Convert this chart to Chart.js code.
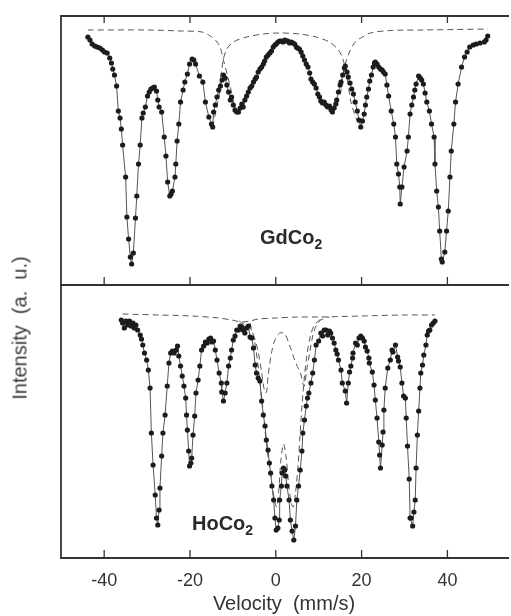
<!DOCTYPE html>
<html>
<head>
<meta charset="utf-8">
<script src="https://cdn.jsdelivr.net/npm/chart.js@4.4.1/dist/chart.umd.min.js"></script>
<style>
  body { margin: 0; background: #fff; }
  #wrap { position: relative; width: 511px; height: 616px; overflow: hidden; font-family: 'Liberation Sans', Arial, sans-serif; color: #2a2a2a; }
  canvas { position: absolute; left: 0; }
  #cTop { top: 0; }
  #cBot { top: 280px; }
  .lbl { position: absolute; font-weight: bold; font-size: 20px; line-height: 20px; white-space: nowrap; }
  .lbl sub { font-size: 14px; vertical-align: -5px; line-height: 0; }
  #ytitle { position: absolute; left: 20px; top: 328px; font-size: 20px; white-space: pre; transform: translate(-50%, -50%) rotate(-90deg); color: #3a3a3a; }
</style>
</head>
<body>
<div id="wrap">
  <canvas id="cTop" width="511" height="290"></canvas>
  <canvas id="cBot" width="511" height="336"></canvas>
  <div class="lbl" style="left:260px; top:227px;">GdCo<sub>2</sub></div>
  <div class="lbl" style="left:192px; top:513px;">HoCo<sub>2</sub></div>
  <div id="ytitle">Intensity  (a.  u.)</div>
</div>
<script>
// axes
var xMin = -50.06;
var xMax = 53.89;
var xTicks = [-40, -20, 0, 20, 40];

// GdCo2 : mesures [vitesse mm/s, intensite]
var gdData = [[-43.8,0.993],[-43.3,0.990],[-42.8,0.986],[-42.2,0.984],[-41.6,0.983],[-41.0,0.982],[-40.4,0.980],[-39.9,0.978],[-39.3,0.977],[-38.7,0.972],[-38.3,0.967],[-38.0,0.961],[-37.6,0.955],[-37.1,0.944],[-36.7,0.919],[-36.3,0.912],[-36.0,0.901],[-35.7,0.885],[-35.0,0.853],[-34.7,0.813],[-34.3,0.791],[-33.9,0.773],[-33.6,0.766],[-33.2,0.777],[-32.7,0.812],[-32.4,0.834],[-32.0,0.866],[-31.6,0.885],[-31.2,0.912],[-30.9,0.917],[-30.4,0.923],[-29.9,0.934],[-29.5,0.938],[-29.1,0.941],[-28.7,0.942],[-28.3,0.943],[-27.8,0.939],[-27.5,0.930],[-27.2,0.923],[-26.6,0.918],[-26.0,0.893],[-25.6,0.874],[-25.2,0.848],[-24.7,0.834],[-24.4,0.836],[-24.1,0.839],[-23.5,0.853],[-23.3,0.866],[-23.0,0.889],[-22.6,0.906],[-22.2,0.928],[-21.6,0.940],[-21.2,0.948],[-20.6,0.956],[-20.1,0.966],[-19.5,0.971],[-19.1,0.970],[-18.7,0.966],[-17.8,0.954],[-17.0,0.948],[-16.4,0.928],[-15.6,0.913],[-15.0,0.906],[-14.7,0.903],[-14.5,0.918],[-14.1,0.925],[-13.7,0.933],[-13.3,0.940],[-12.9,0.944],[-12.5,0.950],[-12.2,0.955],[-11.8,0.952],[-11.4,0.945],[-11.0,0.938],[-10.6,0.930],[-10.3,0.933],[-9.9,0.925],[-9.5,0.920],[-9.1,0.918],[-8.7,0.918],[-8.3,0.922],[-7.9,0.926],[-7.6,0.923],[-7.2,0.930],[-6.8,0.934],[-6.4,0.938],[-6.0,0.942],[-5.6,0.944],[-5.2,0.948],[-4.8,0.951],[-4.5,0.953],[-4.1,0.958],[-3.7,0.961],[-3.3,0.963],[-2.9,0.966],[-2.6,0.969],[-2.2,0.973],[-1.8,0.975],[-1.4,0.977],[-1.0,0.979],[-0.6,0.983],[-0.2,0.985],[0.1,0.986],[0.5,0.988],[0.9,0.989],[1.3,0.989],[1.7,0.988],[2.1,0.990],[2.5,0.989],[2.8,0.989],[3.2,0.987],[3.6,0.988],[4.0,0.987],[4.4,0.986],[4.8,0.983],[5.1,0.982],[5.5,0.981],[5.9,0.978],[6.3,0.974],[6.7,0.970],[7.1,0.966],[7.5,0.963],[7.9,0.957],[8.2,0.951],[8.6,0.948],[9.0,0.946],[9.4,0.942],[9.8,0.936],[10.2,0.933],[10.5,0.929],[10.9,0.927],[11.3,0.928],[11.7,0.925],[12.1,0.923],[12.5,0.924],[12.9,0.920],[13.2,0.918],[13.6,0.922],[14.0,0.926],[14.2,0.930],[14.6,0.938],[15.0,0.945],[15.2,0.948],[15.6,0.955],[16.0,0.962],[16.2,0.964],[16.6,0.958],[16.9,0.953],[17.3,0.947],[17.7,0.941],[18.1,0.936],[18.5,0.928],[19.0,0.919],[19.4,0.910],[19.8,0.903],[20.2,0.909],[20.6,0.916],[20.9,0.925],[21.2,0.933],[21.6,0.941],[21.9,0.949],[22.3,0.955],[22.7,0.963],[23.0,0.967],[23.2,0.968],[23.6,0.966],[24.0,0.963],[24.4,0.961],[24.8,0.960],[25.1,0.958],[25.5,0.956],[25.9,0.945],[26.3,0.934],[26.9,0.919],[27.5,0.906],[27.9,0.893],[28.2,0.866],[28.6,0.856],[28.9,0.843],[29.0,0.826],[29.4,0.843],[29.9,0.863],[30.6,0.879],[30.9,0.893],[31.3,0.916],[31.7,0.925],[32.1,0.933],[32.4,0.940],[32.7,0.946],[33.3,0.954],[33.7,0.952],[34.0,0.950],[34.4,0.946],[34.8,0.937],[35.2,0.928],[35.8,0.919],[36.3,0.906],[36.9,0.893],[37.1,0.866],[37.5,0.839],[37.9,0.823],[38.2,0.799],[38.6,0.771],[38.8,0.768],[39.4,0.778],[39.8,0.799],[40.2,0.819],[40.6,0.853],[40.9,0.879],[41.5,0.906],[41.9,0.928],[42.5,0.946],[43.3,0.963],[44.0,0.973],[44.6,0.978],[45.2,0.983],[46.0,0.985],[46.7,0.986],[47.6,0.987],[48.6,0.988],[49.0,0.990],[49.4,0.994]];

// GdCo2 : sous-spectres (tirets)
var gdOuterL = [[-43.8,1.000],[-30.0,1.000],[-22.0,0.999],[-17.2,0.998],[-14.9,0.993],[-13.7,0.988],[-12.9,0.982],[-12.2,0.970],[-11.4,0.957],[-10.6,0.943],[-9.9,0.930],[-9.4,0.921],[-9.0,0.917]];
var gdOuterR = [[13.3,0.917],[14.0,0.924],[14.6,0.932],[15.1,0.937],[15.5,0.950],[16.2,0.966],[17.2,0.978],[18.5,0.988],[20.2,0.993],[22.0,0.997],[26.6,0.9995],[34.5,1.000],[49.4,1.001]];
var gdArch = [[-14.7,0.903],[-14.0,0.918],[-13.4,0.930],[-13.1,0.938],[-12.9,0.952],[-12.6,0.960],[-12.3,0.970],[-11.4,0.981],[-9.9,0.988],[-6.8,0.993],[-2.9,0.996],[0.9,0.997],[5.5,0.996],[9.4,0.993],[12.5,0.988],[14.4,0.981],[15.5,0.973],[16.3,0.959],[16.9,0.945],[17.4,0.930],[18.2,0.918],[19.0,0.909],[19.8,0.903]];

// HoCo2 : mesures
var hoData = [[-36.0,0.995],[-35.7,0.992],[-35.3,0.987],[-34.9,0.994],[-34.5,0.990],[-34.1,0.994],[-33.7,0.989],[-33.3,0.992],[-33.0,0.987],[-32.6,0.990],[-32.2,0.985],[-31.6,0.980],[-31.3,0.976],[-31.0,0.970],[-30.6,0.962],[-30.1,0.955],[-29.7,0.945],[-29.3,0.927],[-29.0,0.882],[-28.6,0.850],[-28.1,0.820],[-27.8,0.797],[-27.5,0.790],[-27.2,0.805],[-27.0,0.827],[-26.6,0.859],[-26.3,0.882],[-25.8,0.900],[-25.3,0.929],[-24.9,0.952],[-24.5,0.962],[-24.1,0.964],[-23.7,0.962],[-23.2,0.965],[-22.9,0.969],[-22.6,0.959],[-22.2,0.949],[-21.8,0.939],[-21.4,0.929],[-21.0,0.917],[-20.8,0.900],[-20.6,0.885],[-20.3,0.864],[-20.1,0.849],[-19.8,0.852],[-19.6,0.857],[-19.3,0.880],[-18.9,0.899],[-18.6,0.922],[-18.1,0.935],[-17.7,0.949],[-17.3,0.965],[-16.8,0.969],[-16.4,0.973],[-16.0,0.972],[-15.6,0.976],[-15.2,0.977],[-14.9,0.973],[-14.5,0.974],[-14.1,0.965],[-13.7,0.955],[-13.2,0.942],[-12.7,0.932],[-12.6,0.923],[-12.2,0.914],[-11.8,0.922],[-11.4,0.932],[-11.0,0.949],[-10.6,0.957],[-10.3,0.965],[-9.9,0.975],[-9.5,0.979],[-9.1,0.985],[-8.7,0.985],[-8.3,0.989],[-7.9,0.988],[-7.6,0.985],[-7.2,0.982],[-6.8,0.987],[-6.4,0.989],[-6.0,0.978],[-5.6,0.977],[-5.2,0.967],[-4.8,0.950],[-4.5,0.942],[-4.1,0.937],[-3.7,0.934],[-3.3,0.914],[-2.9,0.900],[-2.5,0.889],[-2.2,0.875],[-1.8,0.865],[-1.5,0.852],[-1.2,0.842],[-0.9,0.829],[-0.5,0.815],[-0.2,0.797],[0.1,0.785],[0.5,0.787],[0.8,0.795],[0.9,0.815],[1.3,0.829],[1.5,0.842],[1.8,0.847],[2.1,0.845],[2.3,0.839],[2.6,0.829],[3.1,0.815],[3.4,0.795],[3.8,0.784],[4.2,0.775],[4.6,0.789],[4.9,0.815],[5.3,0.829],[5.7,0.845],[6.1,0.864],[6.3,0.882],[6.7,0.895],[7.1,0.909],[7.4,0.917],[7.7,0.922],[8.2,0.932],[8.6,0.942],[9.0,0.955],[9.4,0.970],[10.0,0.974],[10.5,0.982],[10.9,0.979],[11.3,0.985],[11.7,0.985],[12.1,0.980],[12.5,0.984],[12.8,0.982],[13.2,0.977],[13.6,0.972],[14.0,0.965],[14.3,0.961],[14.6,0.955],[15.2,0.945],[15.5,0.932],[16.2,0.924],[16.5,0.912],[16.9,0.932],[17.2,0.943],[17.5,0.949],[17.9,0.957],[18.0,0.962],[18.6,0.972],[19.0,0.970],[19.4,0.977],[19.8,0.979],[20.2,0.977],[20.6,0.974],[20.9,0.968],[21.3,0.964],[21.7,0.957],[21.8,0.952],[22.5,0.943],[22.9,0.930],[23.2,0.915],[23.6,0.897],[24.0,0.873],[24.2,0.860],[24.4,0.847],[24.8,0.870],[25.0,0.883],[25.2,0.905],[25.5,0.927],[26.1,0.947],[26.7,0.955],[27.1,0.965],[27.3,0.963],[27.9,0.970],[28.4,0.958],[28.6,0.954],[29.0,0.948],[29.4,0.932],[29.8,0.919],[30.2,0.917],[30.4,0.897],[30.7,0.869],[31.1,0.836],[31.3,0.797],[31.5,0.797],[31.9,0.789],[32.2,0.803],[32.5,0.815],[32.7,0.847],[33.0,0.880],[33.3,0.904],[33.6,0.927],[33.8,0.942],[34.2,0.950],[34.5,0.960],[35.0,0.970],[35.3,0.980],[35.6,0.984],[35.9,0.985],[36.3,0.990],[36.7,0.992],[37.1,0.994]];

// HoCo2 : sous-spectres (tirets)
var hoBase = [[-35.7,1.001],[-27.2,1.000],[-19.5,0.999],[-13.3,0.997],[-10.3,0.995],[-7.9,0.993],[-6.0,0.994],[-4.1,0.996],[0.0,0.997],[5.0,0.998],[10.0,0.998],[20.0,0.999],[30.0,1.000],[37.1,1.000]];
var hoMid = [[-8.5,0.994],[-7.9,0.992],[-6.0,0.987],[-4.8,0.975],[-4.1,0.963],[-3.3,0.943],[-2.9,0.930],[-2.4,0.922],[-2.1,0.924],[-1.8,0.939],[-1.0,0.962],[-0.2,0.975],[0.9,0.982],[2.1,0.981],[3.2,0.970],[4.4,0.955],[5.4,0.945],[5.9,0.940],[6.4,0.930],[6.7,0.929],[7.2,0.945],[7.9,0.962],[8.6,0.979],[9.4,0.989],[10.5,0.995],[12.5,0.998]];
var hoInner = [[-6.0,0.992],[-5.0,0.975],[-4.0,0.945],[-3.0,0.905],[-2.0,0.865],[-1.0,0.835],[-0.3,0.815],[0.2,0.808],[0.7,0.825],[1.2,0.855],[1.8,0.871],[2.4,0.858],[3.0,0.830],[3.6,0.812],[4.1,0.808],[4.6,0.822],[5.2,0.850],[5.8,0.890],[6.4,0.925],[7.1,0.955],[8.0,0.978],[9.0,0.990],[10.5,0.996]];

var fontFam = "'Liberation Sans', Arial, sans-serif";

// cadre + petites graduations vers l'interieur
const framePlugin = {
    id: 'frame',
    afterDatasetsDraw(chart, args, opts) {
        const ctx = chart.ctx;
        const a = chart.chartArea;
        const x = chart.scales.x;
        ctx.save();
        ctx.strokeStyle = '#333';
        ctx.lineWidth = 1.8;
        ctx.beginPath();
        ctx.moveTo(a.right + 2, a.top);
        ctx.lineTo(a.left, a.top);
        ctx.lineTo(a.left, a.bottom);
        ctx.lineTo(a.right + 2, a.bottom);
        ctx.stroke();
        ctx.lineWidth = 1.3;
        ctx.beginPath();
        xTicks.forEach(v => {
            const px = x.getPixelForValue(v);
            if (opts.top) {
                ctx.moveTo(px, a.top);
                ctx.lineTo(px, a.top + 7);
            }
            ctx.moveTo(px, a.bottom);
            ctx.lineTo(px, a.bottom - 8);
        });
        ctx.stroke();
        ctx.restore();
    }
};

function pointsSet(data) {
    return {
        data: data,
        showLine: true,
        borderColor: '#555',
        borderWidth: 1,
        pointRadius: 2.6,
        pointBackgroundColor: '#1c1c1c',
        pointBorderWidth: 0,
        order: 1
    };
}

function dashSet(data) {
    return {
        data: data,
        showLine: true,
        borderColor: '#555',
        borderWidth: 1,
        borderDash: [6, 4],
        pointRadius: 0,
        tension: 0.3,
        order: 2
    };
}

const chartTop = new Chart(document.getElementById('cTop'), {
    type: 'scatter',
    data: {
        datasets: [pointsSet(gdData), dashSet(gdOuterL), dashSet(gdOuterR), dashSet(gdArch)]
    },
    options: {
        responsive: false,
        animation: false,
        devicePixelRatio: 1,
        layout: { padding: { left: 61, top: 16, right: 0, bottom: 5 } },
        plugins: { legend: { display: false }, tooltip: { enabled: false }, frame: { top: true } },
        scales: {
            x: { type: 'linear', min: xMin, max: xMax, display: false },
            y: { min: 0.745, max: 1.014, display: false }
        }
    },
    plugins: [framePlugin]
});

const chartBot = new Chart(document.getElementById('cBot'), {
    type: 'scatter',
    data: {
        datasets: [pointsSet(hoData), dashSet(hoBase), dashSet(hoMid), dashSet(hoInner)]
    },
    options: {
        responsive: false,
        animation: false,
        devicePixelRatio: 1,
        layout: { padding: { left: 61, top: 5, right: 0, bottom: 0 } },
        plugins: { legend: { display: false }, tooltip: { enabled: false }, frame: { top: false } },
        scales: {
            x: {
                type: 'linear',
                min: xMin,
                max: xMax,
                grid: { display: false, drawTicks: false },
                border: { display: false },
                afterBuildTicks: function (scale) {
                    scale.ticks = xTicks.map(v => ({ value: v }));
                },
                afterFit: function (scale) {
                    scale.height = 58;
                },
                ticks: {
                    padding: 12,
                    color: '#333',
                    font: { family: fontFam, size: 18 }
                },
                title: {
                    display: true,
                    text: 'Velocity  (mm/s)',
                    color: '#333',
                    font: { family: fontFam, size: 20 },
                    padding: { top: 0, bottom: 0 }
                }
            },
            y: { min: 0.757, max: 1.030, display: false }
        }
    },
    plugins: [framePlugin]
});
</script>
</body>
</html>
